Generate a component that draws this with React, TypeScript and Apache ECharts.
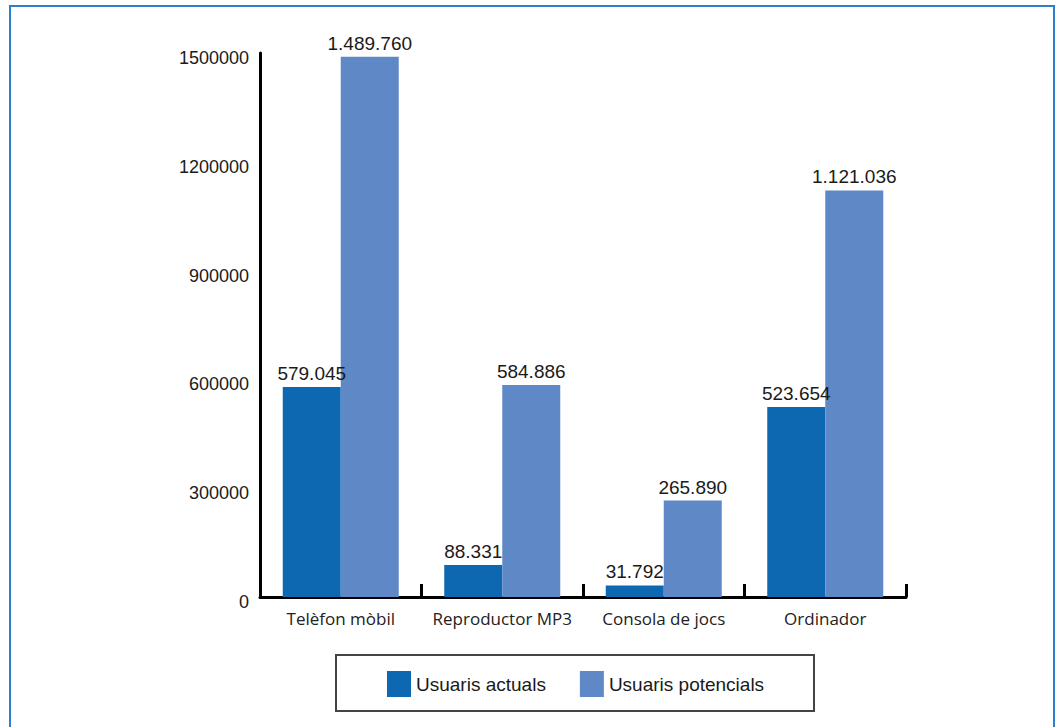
import React, { useEffect, useRef } from "react";
import * as echarts from "echarts";

const categories = ["Telèfon mòbil", "Reproductor MP3", "Consola de jocs", "Ordinador"];
const actualValues = [579045, 88331, 31792, 523654];
const potentialValues = [1489760, 584886, 265890, 1121036];
const seriesNames = ["Usuaris actuals", "Usuaris potencials"];
const yTicks = { min: 0, max: 1500000, interval: 300000 };

const fmt = (n: number) => String(n).replace(/\B(?=(\d{3})+(?!\d))/g, ".");

export default function App() {
  const ref = useRef<HTMLDivElement>(null);
  useEffect(() => {
    if (!ref.current) return;
    const chart = echarts.init(ref.current, null, { renderer: "svg" });
    const labelStyle = {
      show: true,
      position: "top" as const,
      distance: 4,
      fontSize: 19,
      color: "#1a1a1a",
      fontFamily: "Liberation Sans",
      formatter: (p: any) => fmt(p.value),
    };
    chart.setOption({
      animation: false,
      backgroundColor: "#ffffff",
      grid: { left: 260, right: 153, top: 53, bottom: 130, containLabel: false },
      xAxis: {
        type: "category",
        data: categories,
        axisLine: { show: true, lineStyle: { color: "#000", width: 3 } },
        axisTick: { show: true, interval: 0, inside: true, length: 13, alignWithLabel: false, lineStyle: { color: "#000", width: 3 } },
        axisLabel: { interval: 0, fontSize: 17, color: "#222", fontFamily: "Open Sans", margin: 13 },
        splitLine: { show: false },
      },
      yAxis: {
        type: "value",
        min: yTicks.min,
        max: yTicks.max,
        interval: yTicks.interval,
        axisLine: { show: true, lineStyle: { color: "#000", width: 3 } },
        axisTick: { show: false },
        splitLine: { show: false },
        axisLabel: {
          fontSize: 18,
          color: "#1a1a1a",
          fontFamily: "Liberation Sans",
          margin: 11,
          verticalAlign: "top",
          lineHeight: 10,
          formatter: (v: number) => String(v),
        },
      },
      legend: {
        left: 387,
        top: 671,
        itemWidth: 24,
        itemHeight: 26,
        itemGap: 34,
        padding: 0,
        icon: "rect",
        textStyle: { fontSize: 19, color: "#1a1a1a", fontFamily: "Liberation Sans" },
        data: seriesNames,
      },
      graphic: [
        {
          type: "rect",
          shape: { x: 10, y: 6, width: 1044, height: 740 },
          style: { fill: "none", stroke: "#2a7fd0", lineWidth: 2 },
          silent: true,
        },
        {
          type: "rect",
          shape: { x: 336, y: 655, width: 478, height: 56 },
          style: { fill: "none", stroke: "#444", lineWidth: 2 },
          silent: true,
        },
      ],
      series: [
        {
          name: seriesNames[0],
          type: "bar",
          data: actualValues,
          barWidth: 58,
          barGap: "0%",
          itemStyle: { color: "#0d68b1" },
          label: labelStyle,
        },
        {
          name: seriesNames[1],
          type: "bar",
          data: potentialValues,
          barWidth: 58,
          barGap: "0%",
          itemStyle: { color: "#5f88c6" },
          label: labelStyle,
        },
      ],
    });
    return () => chart.dispose();
  }, []);
  return (
    <div
      ref={ref}
      style={{ position: "fixed", left: 0, top: 0, width: 1059, height: 727 }}
    />
  );
}
